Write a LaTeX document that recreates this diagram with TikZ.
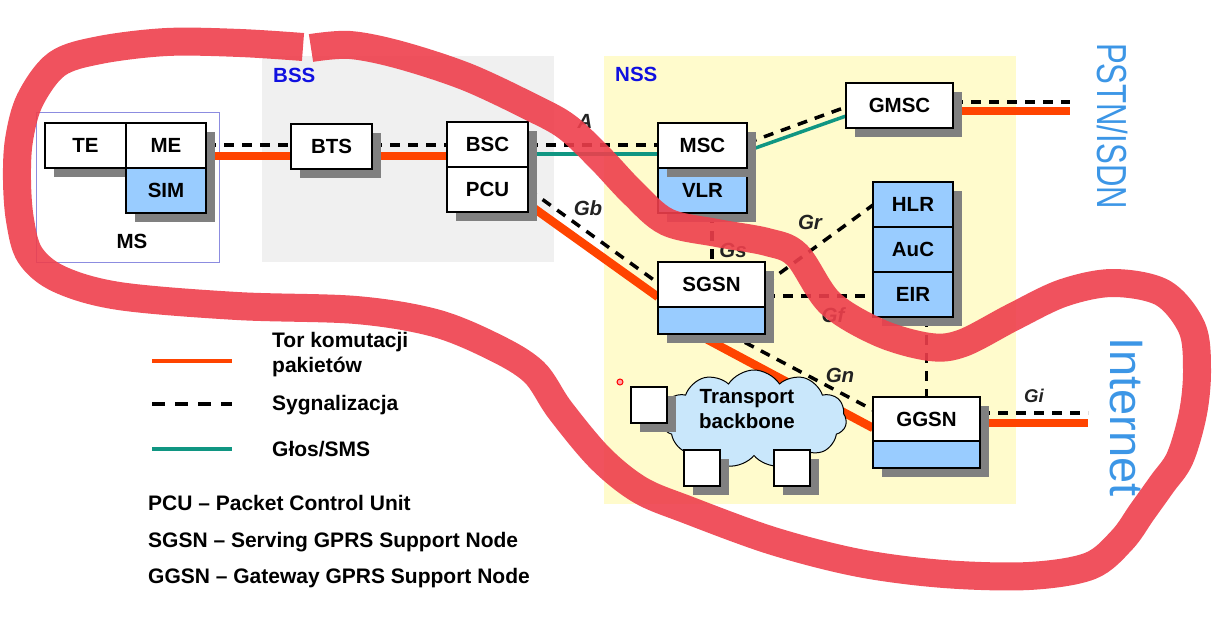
\documentclass[tikz,border=0pt]{standalone}
\usepackage{fontspec}
\setmainfont{Liberation Sans}
\usetikzlibrary{positioning,shapes.symbols,shadows}
\definecolor{bssgray}{RGB}{240,240,240}
\definecolor{nssyellow}{RGB}{255,251,204}
\definecolor{dbblue}{RGB}{153,204,255}
\definecolor{shadowgray}{RGB}{128,128,128}
\definecolor{pktorange}{RGB}{255,68,0}
\definecolor{voiceteal}{RGB}{16,150,130}
\definecolor{regionblue}{RGB}{16,16,224}
\definecolor{netblue}{RGB}{60,150,230}
\definecolor{msframe}{RGB}{140,140,224}
\definecolor{cloudblue}{RGB}{201,231,251}
\definecolor{labelgray}{RGB}{34,34,34}
\definecolor{markerred}{RGB}{238,63,76}
\pgfdeclarelayer{back}
\pgfdeclarelayer{wires}
\pgfdeclarelayer{marker}
\pgfsetlayers{back,wires,main,marker}
\tikzset{
  box/.style={draw=black, line width=1.8pt, fill=white, minimum width=81pt,
    minimum height=45pt, inner sep=0pt, outer sep=0pt,
    font=\bfseries\fontsize{20.5}{24}\selectfont,
    drop shadow={shadow xshift=9pt, shadow yshift=-9pt, opacity=1, fill=shadowgray}},
  dbbox/.style={box, fill=dbblue},
  stub/.style={box, minimum width=36pt, minimum height=36pt},
  sig/.style={draw=black, line width=3.5pt, dash pattern=on 10pt off 8pt},
  pkt/.style={draw=pktorange, line width=8.5pt},
  voice/.style={draw=voiceteal, line width=3.5pt},
  iface/.style={font=\bfseries\itshape\fontsize{20.5}{24}\selectfont, text=labelgray},
  region/.style={font=\bfseries\fontsize{20.5}{24}\selectfont, text=regionblue, anchor=west, inner sep=0pt},
  legend/.style={font=\bfseries\fontsize{21}{25}\selectfont, anchor=west, align=left, inner sep=0pt},
  outside/.style={text=netblue, rotate=-90, inner sep=0pt},
}
\begin{document}
\begin{tikzpicture}[x=1pt, y=-1pt, line join=miter]
\useasboundingbox (0,0) rectangle (1229,623);
% obszary
\begin{pgfonlayer}{back}
  \fill[bssgray] (262,56) rectangle (554,262);
  \fill[nssyellow] (604,56) rectangle (1016,504);
  \draw[msframe, line width=1pt] (36,113) rectangle (219,262);
\end{pgfonlayer}
\node[region] (bsslbl) at (273,75) {BSS};
\node[region] (nsslbl) at (615,74) {NSS};
\node[font=\bfseries\fontsize{20.5}{24}\selectfont] (mslbl) at (132,241) {MS};
% MS
\node[box] (TE) at (85.5,145.5) {TE};
\node[box, minimum width=80pt, right=0pt of TE] (ME) {ME};
\node[dbbox, minimum width=80pt, below=0pt of ME] (SIM) {SIM};
% BSS
\node[box] (BTS) at (331.5,146.5) {BTS};
\node[box] (BSC) at (487.5,144.5) {BSC};
\node[box, below=0pt of BSC] (PCU) {PCU};
% NSS
\node[dbbox, minimum width=89pt] (VLR) at (702.5,190.5) {VLR};
\node[box, minimum width=89pt, above=0pt of VLR] (MSC) {MSC};
\node[box, minimum width=107pt] (GMSC) at (899.5,105.5) {GMSC};
\node[dbbox, minimum width=80pt] (HLR) at (913,204.5) {HLR};
\node[dbbox, minimum width=80pt, below=0pt of HLR] (AuC) {AuC};
\node[dbbox, minimum width=80pt, below=0pt of AuC] (EIR) {EIR};
\node[box, minimum width=107pt] (SGSN) at (711.5,284.5) {SGSN};
\node[dbbox, minimum width=107pt, minimum height=27pt, below=0pt of SGSN] (SGSNd) {};
\node[box, minimum width=107pt, minimum height=44pt] (GGSN) at (926.5,419) {GGSN};
\node[dbbox, minimum width=107pt, minimum height=27pt, below=0pt of GGSN] (GGSNd) {};
% szkielet
\node[cloud, draw=black, line width=1pt, fill=cloudblue, cloud puffs=11, cloud puff arc=115,
  aspect=1.9, minimum width=185pt, minimum height=98pt, inner sep=0pt,
  label={[font=\bfseries\fontsize{20.5}{25}\selectfont, align=center, xshift=-7pt, yshift=10pt]center:Transport\\backbone}]
  (backbone) at (754,419) {};
\node[stub] (stubA) at (649,405) {};
\node[stub] (stubB) at (702,468) {};
\node[stub] (stubC) at (792,468) {};
\coordinate (pstn) at (1070,106);
\coordinate (inet) at (1088,418);
% polaczenia
\begin{pgfonlayer}{wires}
  \draw[sig] (ME.east |- 0,145) -- (BTS.west |- 0,145);
  \draw[pkt] (ME.east |- 0,156) -- (BTS.west |- 0,156);
  \draw[sig] (BTS.east |- 0,145) -- (BSC.west |- 0,145);
  \draw[pkt] (BTS.east |- 0,156) -- (BSC.west |- 0,156);
  \draw[sig] (BSC.east |- 0,145) -- (MSC.west |- 0,145);
  \draw[voice] (BSC.east |- 0,154) -- (MSC.west |- 0,154);
  \draw[sig] (PCU.east |- 0,189) -- (SGSN.west |- 0,283);
  \draw[pkt] (PCU.east |- 0,204) -- (SGSN.west |- 0,297);
  \draw[sig] (MSC.east |- 0,143) -- (GMSC.west |- 0,107);
  \draw[voice] (MSC.east |- 0,151) -- (GMSC.west |- 0,116);
  \draw[sig] (GMSC.east |- 0,102) -- (pstn |- 0,102);
  \draw[pkt] (GMSC.east |- 0,111) -- (pstn |- 0,111);
  \draw[sig] (VLR.south -| 712,0) -- (SGSN.north -| 712,0);
  \draw[sig] (SGSN.east |- 0,284) -- (HLR.west |- 0,205);
  \draw[sig] (SGSN.east |- 0,296) -- (EIR.west |- 0,296);
  \draw[sig] (EIR.south -| GGSN.north) -- (GGSN.north);
  \draw[pkt] (SGSNd.south -| 697,0) -- (GGSN.west |- 0,428);
  \draw[sig] (SGSNd.south -| 729,0) -- (GGSN.west |- 0,410);
  \draw[sig] (GGSN.east |- 0,413) -- (inet |- 0,413);
  \draw[pkt] (GGSN.east |- 0,423) -- (inet |- 0,423);
\end{pgfonlayer}
\node[iface] (ifA) at (585,121) {A};
\node[iface] (ifGb) at (588,208) {Gb};
\node[iface] (ifGs) at (733,250) {Gs};
\node[iface] (ifGr) at (810,222) {Gr};
\node[iface] (ifGf) at (833,315) {Gf};
\node[iface] (ifGn) at (840,375) {Gn};
\node[iface, font=\bfseries\itshape\fontsize{18.5}{22}\selectfont] (ifGi) at (1034,396) {Gi};
% sieci zewnetrzne
\node[outside, font=\fontsize{42}{46}\selectfont] (pstnlbl) at (1112,126) {\scalebox{0.74}[1]{PSTN/ISDN}};
\node[outside, font=\fontsize{47}{50}\selectfont] (inetlbl) at (1126,417) {Internet};
% legenda
\draw[pktorange, line width=4pt] (152,361) -- (232,361);
\draw[black, line width=3.5pt, dash pattern=on 13pt off 10pt] (152,404) -- (232,404);
\draw[voiceteal, line width=4pt] (152,449) -- (232,449);
\node[legend] (lgpkt) at (272,355) {Tor komutacji\\pakietów};
\node[legend] (lgsig) at (272,405) {Sygnalizacja};
\node[legend] (lgvoice) at (272,449) {Głos/SMS};
\node[legend] (defPCU) at (148,503) {PCU – Packet Control Unit};
\node[legend] (defSGSN) at (148,542) {SGSN – Serving GPRS Support Node};
\node[legend] (defGGSN) at (148,578) {GGSN – Gateway GPRS Support Node};
% odreczna petla
\begin{pgfonlayer}{marker}
  \draw[markerred, opacity=0.9, line width=28pt, line cap=butt, line join=round]
    plot[smooth, tension=0.55] coordinates {(303,47) (240,43) (167,42) (100,50) (57,64)
    (30,100) (19,140) (17,180) (20,220) (30,255) (59,279) (119,296) (237,306) (356,310)
    (435,323) (494,347) (534,372) (560,410) (600,458) (640,490) (688,510) (773,541)
    (859,563) (944,574) (1029,576) (1090,566) (1122,540) (1142,512) (1162,484) (1180,458)
    (1193,413) (1197,370) (1192,328) (1163,293) (1113,283) (1063,293) (1013,317) (963,343)
    (930,347) (880,333) (830,303) (797,255) (767,242) (717,233) (667,222) (633,193)
    (600,158) (567,127) (533,108) (467,77) (400,55) (350,45) (311,48)};
  \draw[red, line width=1pt, fill=red!35] (620,382) circle (3);
\end{pgfonlayer}
\end{tikzpicture}
\end{document}
